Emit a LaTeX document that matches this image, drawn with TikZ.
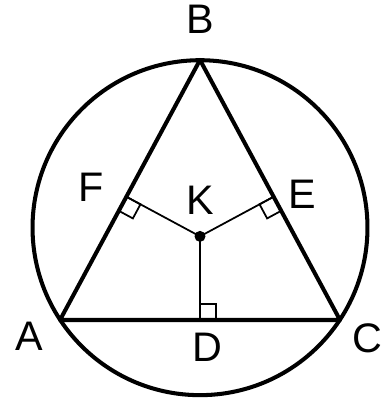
\documentclass[tikz,border=0pt]{standalone}
\usepackage{fontspec}
\setmainfont{Liberation Sans}
\usepackage{tikz}
\usetikzlibrary{calc}
\usepackage{tkz-euclide}

\tikzset{
  heavyline/.style={black, line width=2.3pt},
  footline/.style={black, line width=1pt},
  ptlabel/.style={font=\fontsize{23.5}{28}\selectfont, inner sep=0pt}
}

\begin{document}
\begin{tikzpicture}
      \useasboundingbox (0,0) rectangle (7.62,8);
      % 1. the triangle ABC
      \tkzDefPoint(1.2,1.6){A}
      \tkzDefPoint(4,6.8){B}
      \tkzDefPoint(6.8,1.6){C}

      % 2. circumcentre O and incentre K
      \tkzDefTriangleCenter[circum](A,B,C) \tkzGetPoint{O}
      \tkzDefTriangleCenter[in](A,B,C) \tkzGetPoint{K}

      % 3. feet of the perpendiculars from K
      \tkzDefPointBy[projection=onto A--C](K) \tkzGetPoint{D}
      \tkzDefPointBy[projection=onto B--C](K) \tkzGetPoint{E}
      \tkzDefPointBy[projection=onto A--B](K) \tkzGetPoint{F}

      % 4. circle and triangle
      \tkzDrawCircle[heavyline](O,A)
      \tkzDrawPolygon[heavyline](A,B,C)

      % 5. perpendiculars and right angles
      \tkzDrawSegments[footline](K,D K,E K,F)
      \tkzMarkRightAngle[footline,size=0.32](K,D,C)
      \tkzMarkRightAngle[footline,size=0.32](K,E,C)
      \tkzMarkRightAngle[footline,size=0.32](K,F,A)
      \fill (K) circle (0.11);

      % 6. labels
      \node[ptlabel] (labA) at ($(A)+(-0.62,-0.32)$) {A};
      \node[ptlabel] (labB) at ($(B)+(0,0.82)$) {B};
      \node[ptlabel] (labC) at ($(C)+(0.54,-0.36)$) {C};
      \node[ptlabel] (labD) at ($(D)+(0.14,-0.54)$) {D};
      \node[ptlabel] (labE) at ($(E)+(0.57,0.05)$) {E};
      \node[ptlabel] (labF) at ($(F)+(-0.71,0.19)$) {F};
      \node[ptlabel] (labK) at ($(K)+(0,0.73)$) {K};
    \end{tikzpicture}
\end{document}
